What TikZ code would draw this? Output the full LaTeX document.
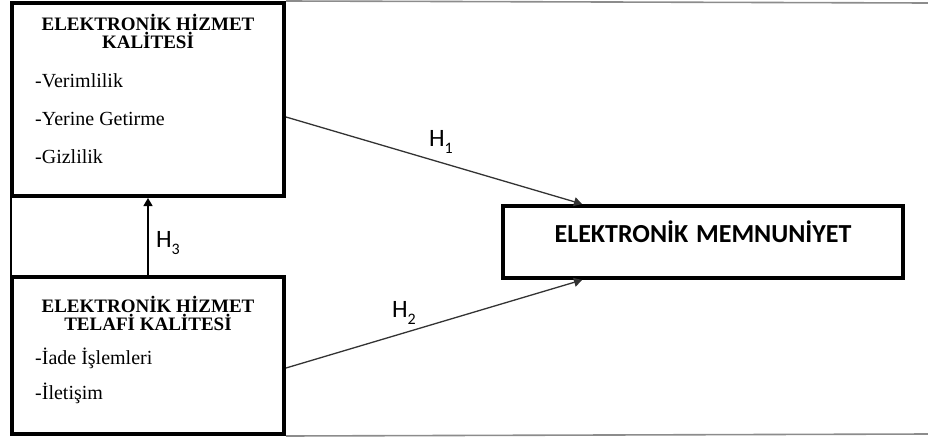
\documentclass[tikz,border=0pt]{standalone}
\usepackage{fontspec}
\setmainfont{Liberation Serif}
\newfontfamily\labelfont{Carlito}
\usetikzlibrary{arrows.meta}

\tikzset{
  thickbox/.style={draw=black, line width=4pt, rectangle, inner sep=0pt},
  boxtitle/.style={font=\bfseries\fontsize{19}{18}\selectfont, align=center, inner sep=0pt},
  itemtext/.style={font=\fontsize{20}{20}\selectfont, anchor=west, inner sep=0pt},
  effect/.style={draw=black!80, line width=1.3pt, -{Triangle[length=8pt,width=9pt]}},
  hyplabel/.style={font=\labelfont\fontsize{25}{25}\selectfont, inner sep=0pt},
  framerule/.style={draw=black!45, line width=1.6pt}
}
\newcommand{\hsub}[1]{\raisebox{-0.6ex}{\fontsize{16}{16}\selectfont #1}}

\begin{document}
\begin{tikzpicture}[x=1pt, y=-1pt]
  \useasboundingbox (0,0) rectangle (928,439);

  % main construct boxes
  \node[thickbox, minimum width=272pt, minimum height=193pt] (quality) at (148,99.5) {};
  \node[thickbox, minimum width=272pt, minimum height=157pt] (recovery) at (148,355.5) {};
  \node[thickbox, minimum width=400pt, minimum height=72pt] (satisfaction) at (703,242) {};

  % outer frame (top, bottom and left rules)
  \coordinate (frameTR) at (928,3);
  \coordinate (frameBR) at (928,434);
  \draw[framerule] (quality.north east) -- (frameTR);
  \draw[framerule] (recovery.south east) -- (frameBR);
  \draw[line width=1.2pt] ([xshift=1pt]quality.south west) -- ([xshift=1pt]recovery.north west);

  % texts of the quality box
  \node[boxtitle] (qtitle) at (148,31) {ELEKTRONİK HİZMET\\KALİTESİ};
  \node[itemtext] (q1) at (35,81) {-Verimlilik};
  \node[itemtext] (q2) at (35,119) {-Yerine Getirme};
  \node[itemtext] (q3) at (35,157) {-Gizlilik};

  % texts of the recovery box
  \node[boxtitle] (rtitle) at (148,313) {ELEKTRONİK HİZMET\\TELAFİ KALİTESİ};
  \node[itemtext] (r1) at (35,358) {-İade İşlemleri};
  \node[itemtext] (r2) at (35,393) {-İletişim};

  % outcome box text
  \node[font=\labelfont\bfseries\fontsize{26}{26}\selectfont, inner sep=0pt] (stitle) at (703,232)
    {ELEKTRONİK\hspace{0.3em}MEMNUNİYET};

  % hypothesised paths
  \draw[effect] ([yshift=-17.5pt]quality.east) -- ([xshift=-121pt]satisfaction.north);
  \draw[effect] ([yshift=-12.5pt]recovery.east) -- ([xshift=-121pt]satisfaction.south);
  \draw[effect, draw=black] (recovery.north) -- (quality.south);

  % path labels
  \node[hyplabel] (h1) at (441,142) {H\hsub{1}};
  \node[hyplabel] (h2) at (404,313) {H\hsub{2}};
  \node[hyplabel] (h3) at (168,243) {H\hsub{3}};
\end{tikzpicture}
\end{document}
